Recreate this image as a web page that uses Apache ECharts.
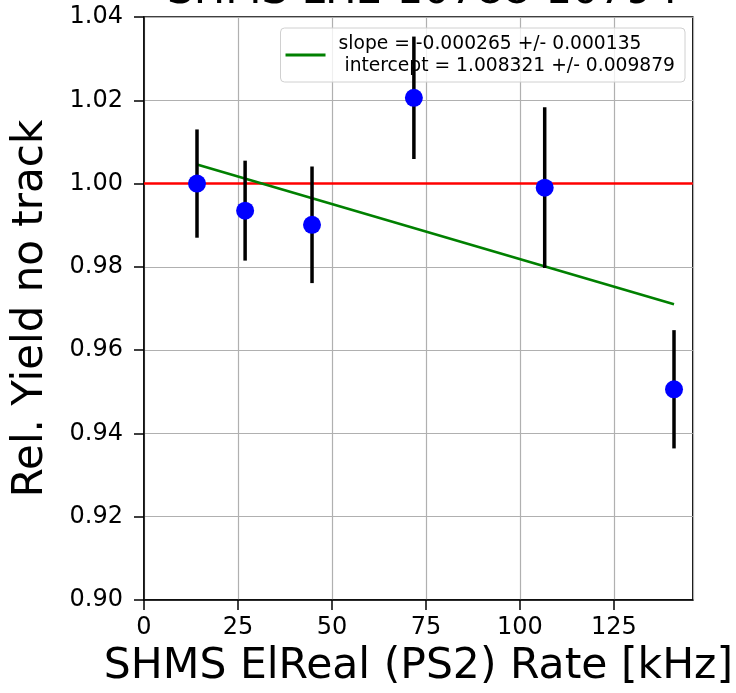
<!DOCTYPE html>
<html><head><meta charset="utf-8">
<script src="https://cdn.jsdelivr.net/npm/echarts@6/dist/echarts.min.js"></script>
<style>html,body{margin:0;padding:0;background:#fff}#c{width:736px;height:693px}</style>
</head><body><div id="c"></div>
<script>
const rates = [14.1, 26.9, 44.7, 71.8, 106.6, 141.0];
const yields = [1.0000, 0.9935, 0.9901, 1.0206, 0.9990, 0.9506];
const errors = [0.0130, 0.0120, 0.0140, 0.0147, 0.0193, 0.0142];
const fitLine = [[14.1, 1.0046], [141.0, 0.9710]];
const refLine = [[0, 1.0], [146, 1.0]];
const xTicks = [0, 25, 50, 75, 100, 125];
const yTicks = [0.90, 0.92, 0.94, 0.96, 0.98, 1.00, 1.02, 1.04];
const fitLabel = 'slope = -0.000265 +/- 0.000135\n intercept = 1.008321 +/- 0.009879';
const titleText = 'SHMS LH2 10788-10794';

const font = 'DejaVu Sans';
const chart = echarts.init(document.getElementById('c'), null, {renderer:'canvas'});
const errData = rates.map((x,i)=>[x, yields[i]-errors[i], yields[i]+errors[i]]);
chart.setOption({
  animation:false,
  backgroundColor:'#fff',
  title:{text:titleText, left:418, textAlign:'center', top:-34,
    textStyle:{fontFamily:font, fontSize:42, fontWeight:'normal', color:'#000'}},
  grid:{left:144, right:43, top:17, bottom:92, show:true, borderColor:'#000', borderWidth:1.5, backgroundColor:'transparent'},
  legend:{right:51, top:28, orient:'vertical', icon:'rect', itemWidth:40, itemHeight:3,
    padding:[5,10,5,5], itemGap:0,
    borderColor:'#d0d0d0', borderWidth:1, borderRadius:4, backgroundColor:'rgba(255,255,255,0.8)',
    textStyle:{fontFamily:font, fontSize:18.7, color:'#000', lineHeight:22, padding:[0,0,0,8]},
    data:[fitLabel]},
  xAxis:{type:'value', min:0, max:146, interval:25,
    name:'SHMS ElReal (PS2) Rate [kHz]', nameLocation:'middle', nameGap:45,
    nameTextStyle:{fontFamily:font, fontSize:42.5, color:'#000'},
    axisLine:{show:true, onZero:false, lineStyle:{color:'#000', width:1.5}},
    axisTick:{show:true, inside:false, length:10, lineStyle:{color:'#000', width:1.5}},
    axisLabel:{fontFamily:font, fontSize:24, color:'#000', margin:16, showMaxLabel:false,
      formatter:v=> xTicks.includes(v)? String(v):''},
    splitLine:{show:true, lineStyle:{color:'#b0b0b0', width:1.2}}},
  yAxis:{type:'value', min:0.90, max:1.04, interval:0.02,
    name:'Rel. Yield no track', nameLocation:'middle', nameGap:92,
    nameTextStyle:{fontFamily:font, fontSize:42, color:'#000'},
    axisLine:{show:true, onZero:false, lineStyle:{color:'#000', width:1.5}},
    axisTick:{show:true, inside:false, length:10, lineStyle:{color:'#000', width:1.5}},
    axisLabel:{fontFamily:font, fontSize:24, color:'#000', margin:21,
      formatter:v=> { const t = yTicks.find(k=>Math.abs(k-v)<1e-9); return t===undefined?'':t.toFixed(2);} },
    splitLine:{show:true, lineStyle:{color:'#b0b0b0', width:1.2}}},
  series:[
    {name:'ref', type:'line', data:refLine, symbol:'none', lineStyle:{color:'#ff0000', width:2.6}, z:2, silent:true},
    {name:fitLabel, type:'line', data:fitLine, symbol:'none', lineStyle:{color:'#008000', width:2.6}, itemStyle:{color:'#008000'}, z:3},
    {name:'err', type:'custom', z:4, data:errData,
      renderItem:(params, api)=>{
        const p1 = api.coord([api.value(0), api.value(1)]);
        const p2 = api.coord([api.value(0), api.value(2)]);
        return {type:'line', shape:{x1:p1[0], y1:p1[1], x2:p2[0], y2:p2[1]}, style:{stroke:'#000', lineWidth:3.5}};
      }, encode:{x:0, y:[1,2]}},
    {name:'pts', type:'scatter', data:rates.map((x,i)=>[x, yields[i]]), symbol:'circle', symbolSize:18,
      itemStyle:{color:'#0000ff', opacity:1}, z:5}
  ]
});
</script></body></html>
